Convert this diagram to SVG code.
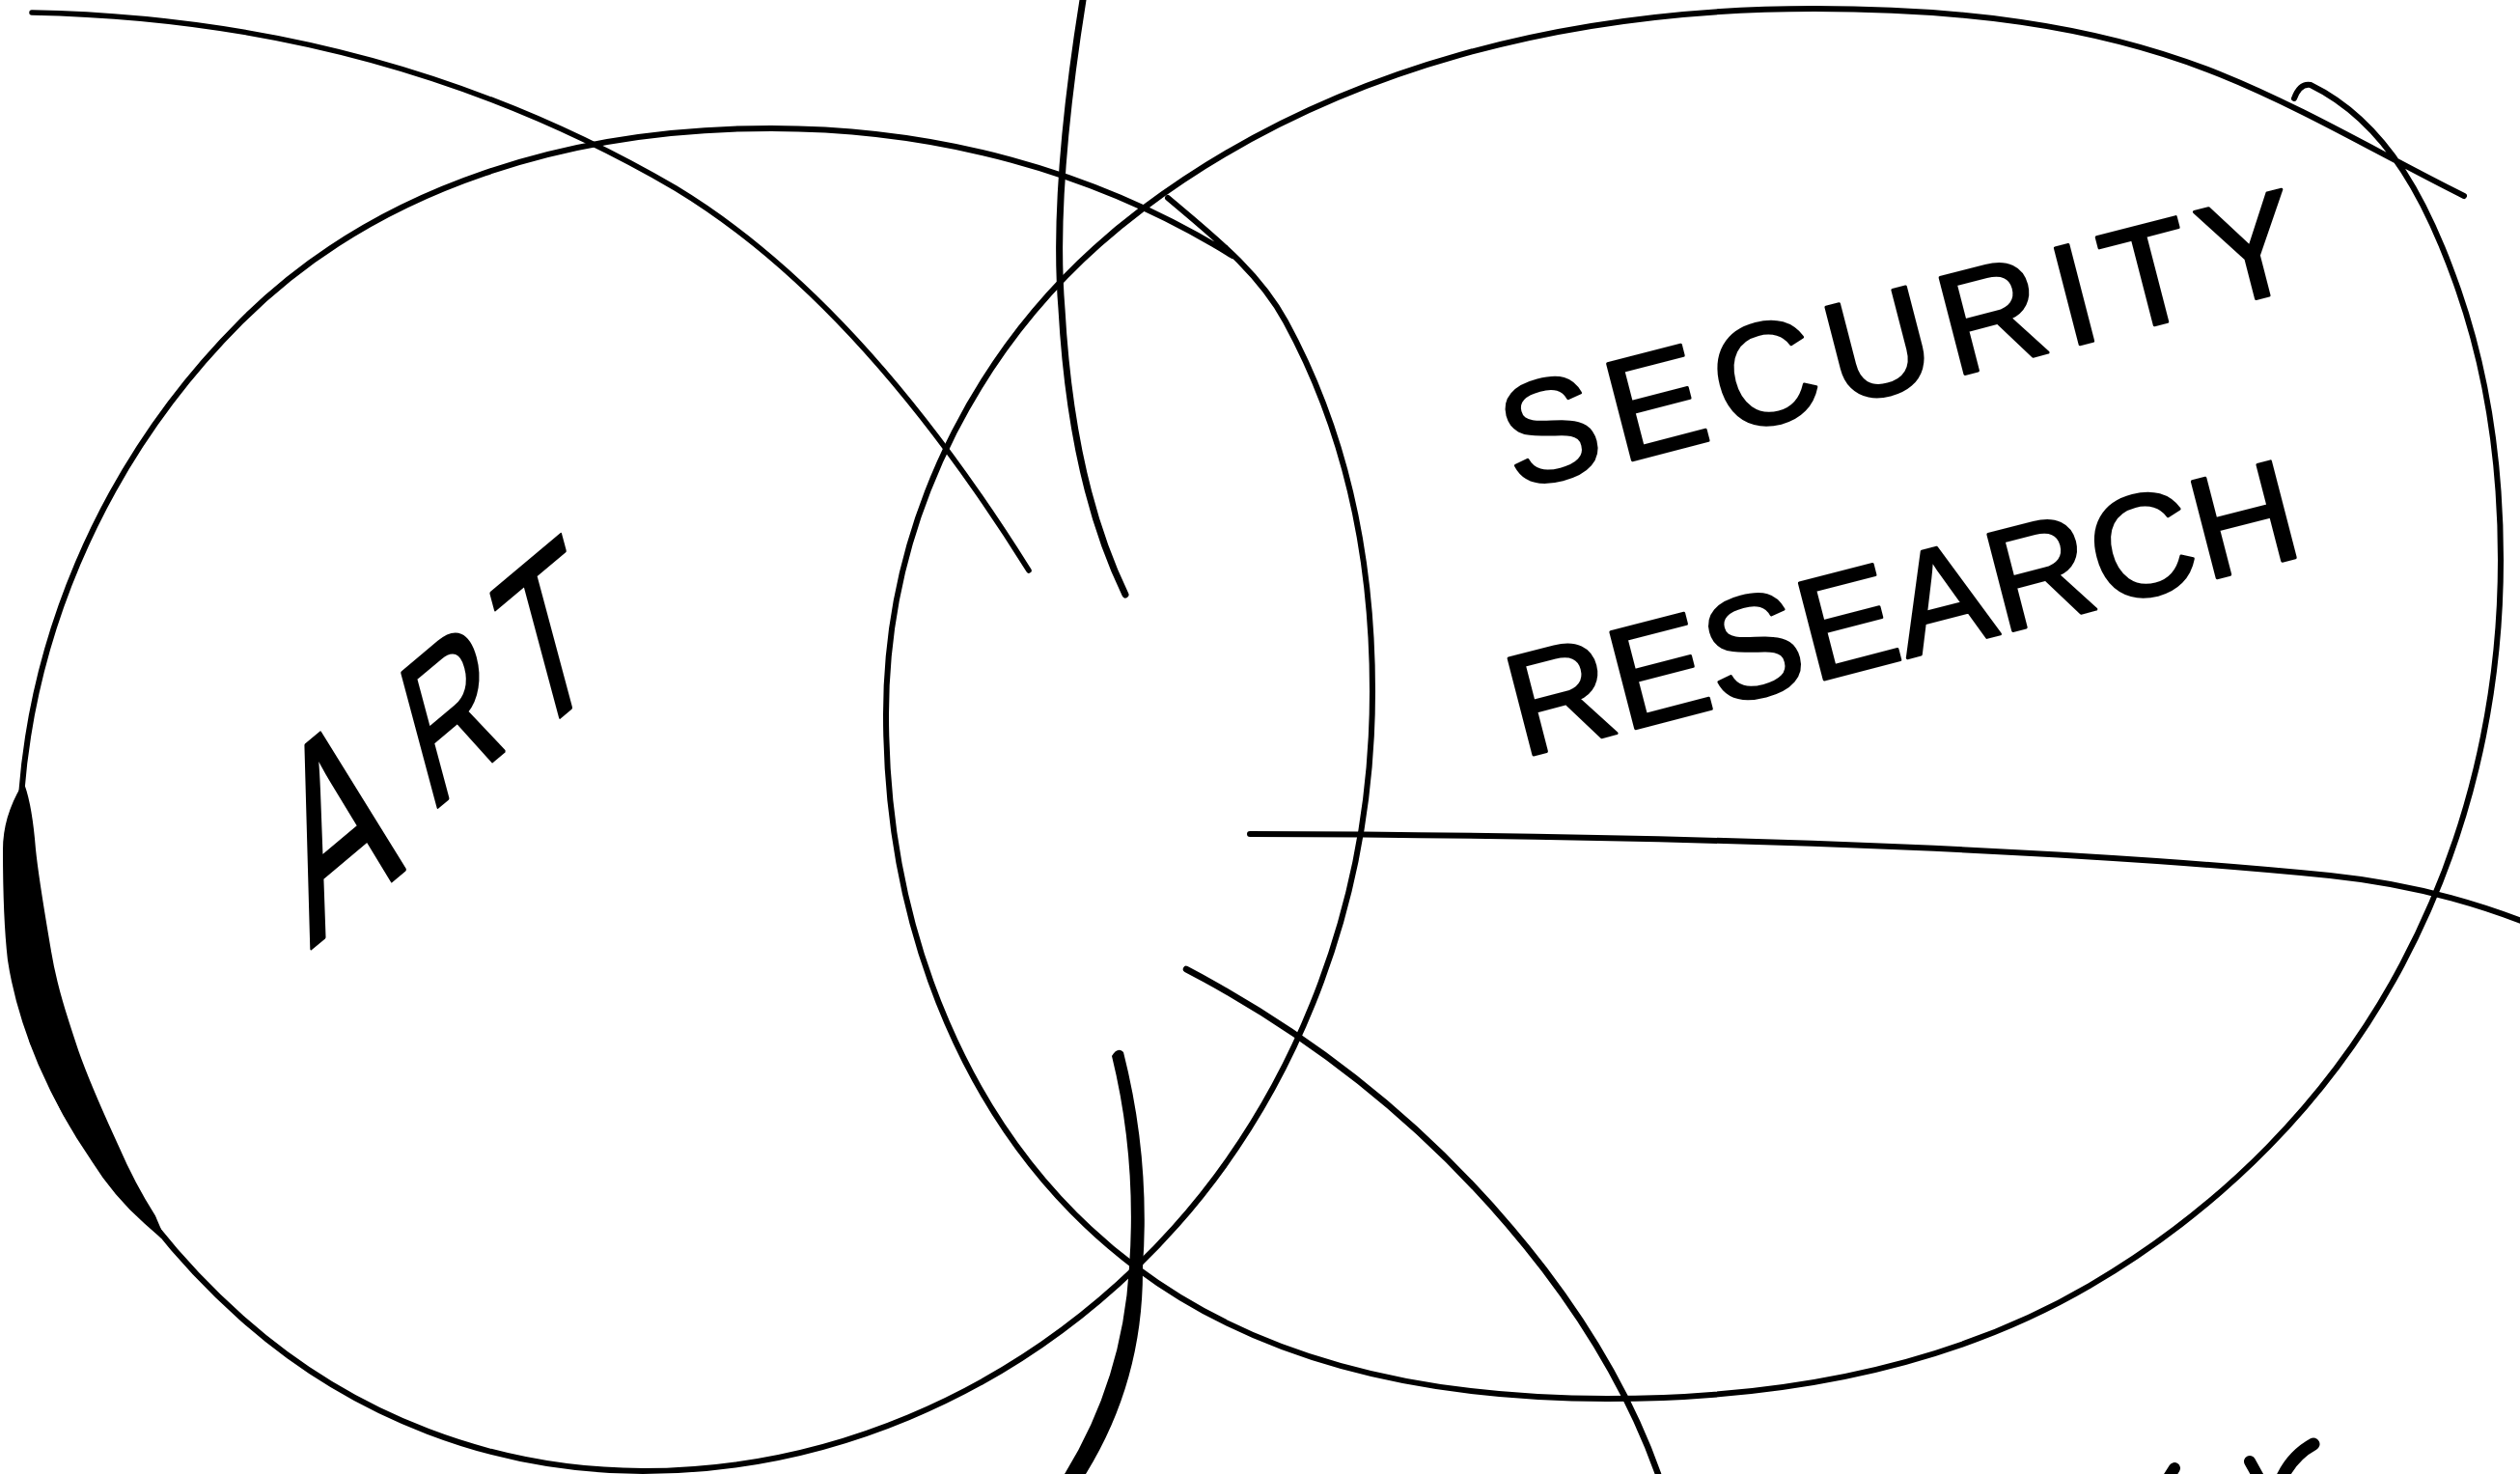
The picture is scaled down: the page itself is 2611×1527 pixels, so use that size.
<svg xmlns="http://www.w3.org/2000/svg" width="2611" height="1527" viewBox="0 0 2611 1527">
  <style>
    .ink { fill: none; stroke: #000; stroke-linecap: round; stroke-linejoin: round; }
    .circle { stroke-width: 6; }
    .solid { fill: #000; stroke: none; }
    .hand { font-family: "Liberation Sans", Arial, sans-serif; fill: #000; stroke: #000; stroke-width: 3; stroke-linejoin: round; }
  </style>
  <rect x="0" y="0" width="2611" height="1527" fill="#ffffff"/>

  <g id="node-art">
    <path class="ink circle" d="M1277,265 C1133.9,175.9 967.6,133 799,133 C596.6,133 393.1,189.9 250,333 C104.7,478.3 20,674.5 20,880 C20,1068 109.8,1239.7 250,1365 C364.5,1467.4 512.4,1524 666,1524 C857.3,1524 1039.2,1445.6 1177,1313 C1338.2,1157.8 1422,939.8 1422,716 C1422,582.7 1395.8,450 1332,333 C1303.5,280.7 1255.5,243.5 1210,205"/>
    <path fill="#000" stroke="#000" stroke-width="4" stroke-linejoin="round" d="M24,815 C12,835 5,858 5,880 C5,925 6,960 9.9,993.9 C16,1035 28,1070 41.6,1102.3 C58,1140 76,1172 96.3,1201.1 C113,1228 133,1250 151,1266 L168,1281 L159,1260 C148,1243 134,1218 120.5,1186.9 C106,1155 92,1125 79.6,1089.7 C68,1055 57,1022 51.1,986.1 C45,950 38,910 35,880 C33,855 30,832 24,815 Z"/>
    <path fill="none" stroke="#000" stroke-linecap="round" stroke-width="30" d="M20,868 C20,940 25,1000 45,1075"/>
    <path fill="none" stroke="#000" stroke-linecap="round" stroke-width="24" d="M45,1075 C60,1125 85,1170 108,1194"/>
    <path fill="none" stroke="#000" stroke-linecap="round" stroke-width="13" d="M108,1194 C125,1220 140,1245 155,1263"/>
    <text class="hand" transform="translate(322,983) rotate(-40) skewX(-25) scale(0.8,1)" font-size="240"><tspan x="0" y="0">A</tspan><tspan x="212" y="-28" font-size="190">R</tspan><tspan x="375" y="-18" font-size="210">T</tspan></text>
  </g>

  <g id="node-security-research">
    <path class="ink circle" d="M2377,102 Q2383,86 2394,88 C2475.4,127.7 2517.2,214.4 2547,300 C2578.4,390.2 2591,484.5 2591,580 C2591,726.2 2557.4,869.8 2489,999 C2415.1,1138.7 2301.4,1252.3 2165,1332 C2014.7,1419.8 1839.1,1449 1665,1449 C1491.7,1449 1315.4,1417.3 1177,1313 C1000.3,1179.8 918,961.3 918,740 C918,533.6 1018.2,341.2 1183,217 C1381.7,67.3 1631.2,9 1880,9 C2023.4,9 2167,23.3 2300,77 C2387.2,112.2 2468.9,161.1 2553,203"/>
    <text class="hand" transform="translate(1570,508) rotate(-14.5)" font-size="150" textLength="850">SECURITY</text>
    <text class="hand" transform="translate(1577,785) rotate(-14.5)" font-size="150" textLength="840">RESEARCH</text>
  </g>

  <g id="connectors">
    <path class="ink" stroke-width="5.5" d="M33,13 Q400,20 700,195 Q890,310 1066,591"/>
    <path class="ink" stroke-width="7" d="M1122,0 Q1090,200 1100,320 Q1110,500 1166,616"/>
    <path class="ink" stroke-width="6" d="M1295,864 Q2000,866 2414,907 Q2520,918 2615,955"/>
    <path class="ink" stroke-width="6.5" d="M1229,1004 Q1450,1120 1600,1315 Q1680,1420 1718,1527"/>
    <path class="solid" d="M1152,1094 Q1178,1200 1170,1313 Q1163,1430 1103,1527 L1125,1527 Q1185,1430 1184,1313 Q1192,1200 1164,1090 Q1158,1084 1152,1094 Z"/>
  </g>

  <g id="cut-off-marks">
    <path class="ink" stroke-width="12" d="M2253,1521 L2246,1532"/>
    <path class="ink" stroke-width="12" d="M2331,1514 L2341,1532"/>
    <path class="ink" stroke-width="13" d="M2397,1496 Q2375,1508 2364,1532"/>
  </g>
</svg>
